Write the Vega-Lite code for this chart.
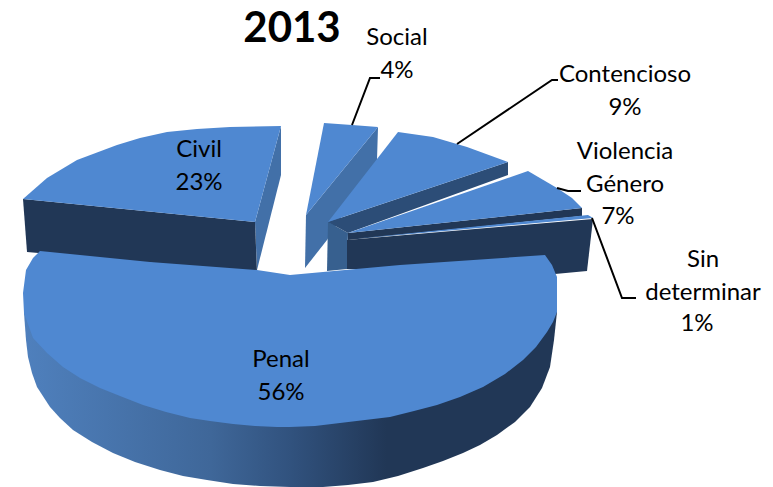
{
"$schema":"https://vega.github.io/schema/vega-lite/v6.json",
"width":773,"height":487,"padding":0,"autosize":{"type":"fit","contains":"padding"},
"background":"white","view":{"stroke":null},
"datasets":{
"faces":[
{"slice":"Civil","face":"side","ord":1,"x":281,"y":126},{"slice":"Civil","face":"side","ord":2,"x":255,"y":222},{"slice":"Civil","face":"side","ord":3,"x":257,"y":270},{"slice":"Civil","face":"side","ord":4,"x":281,"y":175},
{"slice":"Civil","face":"front","ord":1,"x":23,"y":199},{"slice":"Civil","face":"front","ord":2,"x":255,"y":222},{"slice":"Civil","face":"front","ord":3,"x":257,"y":272},{"slice":"Civil","face":"front","ord":4,"x":27,"y":252},
{"slice":"Civil","face":"top","ord":1,"x":281,"y":126},{"slice":"Civil","face":"top","ord":2,"x":230,"y":127},{"slice":"Civil","face":"top","ord":3,"x":197,"y":129},{"slice":"Civil","face":"top","ord":4,"x":167,"y":132},{"slice":"Civil","face":"top","ord":5,"x":140,"y":138},{"slice":"Civil","face":"top","ord":6,"x":117,"y":145},{"slice":"Civil","face":"top","ord":7,"x":77,"y":160},{"slice":"Civil","face":"top","ord":8,"x":47,"y":178},{"slice":"Civil","face":"top","ord":9,"x":23,"y":199},{"slice":"Civil","face":"top","ord":10,"x":255,"y":222},
{"slice":"Social","face":"side","ord":1,"x":378,"y":127},{"slice":"Social","face":"side","ord":2,"x":377,"y":160},{"slice":"Social","face":"side","ord":3,"x":327,"y":240},{"slice":"Social","face":"side","ord":4,"x":305,"y":268},{"slice":"Social","face":"side","ord":5,"x":306,"y":215},
{"slice":"Social","face":"top","ord":1,"x":324,"y":123},{"slice":"Social","face":"top","ord":2,"x":352,"y":125},{"slice":"Social","face":"top","ord":3,"x":378,"y":127},{"slice":"Social","face":"top","ord":4,"x":306,"y":215},
{"slice":"Contencioso","face":"side2","ord":1,"x":328,"y":222},{"slice":"Contencioso","face":"side2","ord":2,"x":327,"y":271},{"slice":"Contencioso","face":"side2","ord":3,"x":347,"y":269},{"slice":"Contencioso","face":"side2","ord":4,"x":348,"y":233},
{"slice":"Contencioso","face":"front2","ord":1,"x":328,"y":222},{"slice":"Contencioso","face":"front2","ord":2,"x":508,"y":162},{"slice":"Contencioso","face":"front2","ord":3,"x":508,"y":175},{"slice":"Contencioso","face":"front2","ord":4,"x":348,"y":233},
{"slice":"Contencioso","face":"top","ord":1,"x":398,"y":132},{"slice":"Contencioso","face":"top","ord":2,"x":433,"y":137},{"slice":"Contencioso","face":"top","ord":3,"x":467,"y":147},{"slice":"Contencioso","face":"top","ord":4,"x":508,"y":162},{"slice":"Contencioso","face":"top","ord":5,"x":328,"y":222},
{"slice":"Violencia","face":"front","ord":1,"x":348,"y":233},{"slice":"Violencia","face":"front","ord":2,"x":582,"y":208},{"slice":"Violencia","face":"front","ord":3,"x":582,"y":216},{"slice":"Violencia","face":"front","ord":4,"x":348,"y":240},
{"slice":"Violencia","face":"top","ord":1,"x":348,"y":233},{"slice":"Violencia","face":"top","ord":2,"x":528,"y":171},{"slice":"Violencia","face":"top","ord":3,"x":557,"y":188},{"slice":"Violencia","face":"top","ord":4,"x":572,"y":198},{"slice":"Violencia","face":"top","ord":5,"x":582,"y":208},
{"slice":"Sin","face":"front","ord":1,"x":347,"y":240},{"slice":"Sin","face":"front","ord":2,"x":593,"y":219},{"slice":"Sin","face":"front","ord":3,"x":587,"y":271},{"slice":"Sin","face":"front","ord":4,"x":555,"y":274},{"slice":"Sin","face":"front","ord":5,"x":347,"y":269},
{"slice":"Sin","face":"top","ord":1,"x":353,"y":239},{"slice":"Sin","face":"top","ord":2,"x":588,"y":215},{"slice":"Sin","face":"top","ord":3,"x":593,"y":218}
],
"penalSide":[
{"ord":1,"x":24,"y":313},{"ord":2,"x":26,"y":340},{"ord":3,"x":28,"y":357},{"ord":4,"x":32,"y":373},{"ord":5,"x":37,"y":387},{"ord":6,"x":50,"y":407},{"ord":7,"x":60,"y":418},{"ord":8,"x":73,"y":430},{"ord":9,"x":92,"y":442},{"ord":10,"x":113,"y":453},{"ord":11,"x":135,"y":462},{"ord":12,"x":160,"y":470},{"ord":13,"x":183,"y":476},{"ord":14,"x":207,"y":480},{"ord":15,"x":233,"y":484},{"ord":16,"x":260,"y":486},{"ord":17,"x":290,"y":487},{"ord":18,"x":323,"y":487},{"ord":19,"x":348,"y":485},{"ord":20,"x":373,"y":482},{"ord":21,"x":398,"y":476},{"ord":22,"x":423,"y":468},{"ord":23,"x":443,"y":461},{"ord":24,"x":463,"y":453},{"ord":25,"x":480,"y":445},{"ord":26,"x":497,"y":435},{"ord":27,"x":515,"y":422},{"ord":28,"x":530,"y":407},{"ord":29,"x":542,"y":388},{"ord":30,"x":550,"y":367},{"ord":31,"x":554,"y":340},{"ord":32,"x":557,"y":312}
],
"penalTop":[
{"ord":1,"x":40,"y":251},{"ord":2,"x":150,"y":262},{"ord":3,"x":257,"y":270},{"ord":4,"x":290,"y":275},{"ord":5,"x":400,"y":265},{"ord":6,"x":545,"y":255},{"ord":7,"x":552,"y":265},{"ord":8,"x":557,"y":277},{"ord":9,"x":557,"y":300},{"ord":10,"x":557,"y":312},{"ord":11,"x":553,"y":322},{"ord":12,"x":547,"y":332},{"ord":13,"x":536,"y":347},{"ord":14,"x":523,"y":360},{"ord":15,"x":505,"y":374},{"ord":16,"x":483,"y":387},{"ord":17,"x":460,"y":397},{"ord":18,"x":437,"y":405},{"ord":19,"x":414,"y":411},{"ord":20,"x":390,"y":417},{"ord":21,"x":365,"y":420},{"ord":22,"x":340,"y":423},{"ord":23,"x":315,"y":426},{"ord":24,"x":290,"y":427},{"ord":25,"x":277,"y":427},{"ord":26,"x":255,"y":426},{"ord":27,"x":233,"y":424},{"ord":28,"x":210,"y":421},{"ord":29,"x":190,"y":418},{"ord":30,"x":166,"y":412},{"ord":31,"x":143,"y":405},{"ord":32,"x":120,"y":396},{"ord":33,"x":100,"y":388},{"ord":34,"x":80,"y":378},{"ord":35,"x":63,"y":367},{"ord":36,"x":47,"y":353},{"ord":37,"x":33,"y":338},{"ord":38,"x":24,"y":313},{"ord":39,"x":23,"y":293},{"ord":40,"x":26,"y":270},{"ord":41,"x":33,"y":258}
],
"leaders":[
{"slice":"Social","ord":1,"x":352,"y":125},{"slice":"Social","ord":2,"x":370,"y":78},{"slice":"Social","ord":3,"x":380,"y":78},
{"slice":"Contencioso","ord":1,"x":457,"y":144},{"slice":"Contencioso","ord":2,"x":552,"y":80},{"slice":"Contencioso","ord":3,"x":558,"y":80},
{"slice":"Violencia","ord":1,"x":557,"y":188},{"slice":"Violencia","ord":2,"x":568,"y":191},{"slice":"Violencia","ord":3,"x":581,"y":191},
{"slice":"Sin","ord":1,"x":592,"y":218},{"slice":"Sin","ord":2,"x":622,"y":298},{"slice":"Sin","ord":3,"x":636,"y":298}
],
"labels":[
{"label":"Civil\n23%","x":199,"y":150},
{"label":"Social\n4%","x":397,"y":38},
{"label":"Contencioso\n9%","x":625,"y":75},
{"label":"Violencia\nGénero","x":625,"y":152},
{"label":"7%","x":618,"y":217},
{"label":"Sin\ndeterminar","x":703,"y":260},
{"label":"1%","x":697,"y":324},
{"label":"Penal\n56%","x":281,"y":360}
],
"title":[{"label":"2013","x":292,"y":29}]
},
"encoding":{
"x":{"field":"x","type":"quantitative","axis":null,"scale":{"domain":[0,773],"nice":false,"zero":false}},
"y":{"field":"y","type":"quantitative","axis":null,"scale":{"domain":[487,0],"nice":false,"zero":false}}
},
"layer":[
{"data":{"name":"faces"},
 "mark":{"type":"line","strokeWidth":0,"fillOpacity":1},
 "encoding":{"order":{"field":"ord","type":"quantitative"},"detail":{"field":"slice"},
  "fill":{"field":"face","type":"nominal","legend":null,"scale":{"domain":["top","side","front","front2","side2"],"range":["#4f88d1","#4270a8","#213756","#2c4d77","#37608f"]}}}},
{"data":{"name":"penalSide"},
 "mark":{"type":"line","strokeWidth":0,"fill":{"gradient":"linear","x1":0,"y1":0,"x2":1,"y2":0,"stops":[{"offset":0,"color":"#4f80bd"},{"offset":0.35,"color":"#3f6799"},{"offset":0.5,"color":"#31527e"},{"offset":0.68,"color":"#213756"},{"offset":1,"color":"#213756"}]}},
 "encoding":{"order":{"field":"ord","type":"quantitative"}}},
{"data":{"name":"penalTop"},
 "mark":{"type":"line","strokeWidth":0,"fill":"#4f88d1"},
 "encoding":{"order":{"field":"ord","type":"quantitative"}}},
{"data":{"name":"leaders"},
 "mark":{"type":"line","stroke":"black","strokeWidth":2},
 "encoding":{"order":{"field":"ord","type":"quantitative"},"detail":{"field":"slice"}}},
{"data":{"name":"labels"},
 "mark":{"type":"text","font":"Lato","fontSize":24,"lineBreak":"\n","lineHeight":32.5,"align":"center","baseline":"middle","color":"black"},
 "encoding":{"text":{"field":"label"}}},
{"data":{"name":"title"},
 "mark":{"type":"text","font":"Lato","fontSize":42,"fontWeight":"bold","align":"center","baseline":"middle","color":"black"},
 "encoding":{"text":{"field":"label"}}}
]
}
